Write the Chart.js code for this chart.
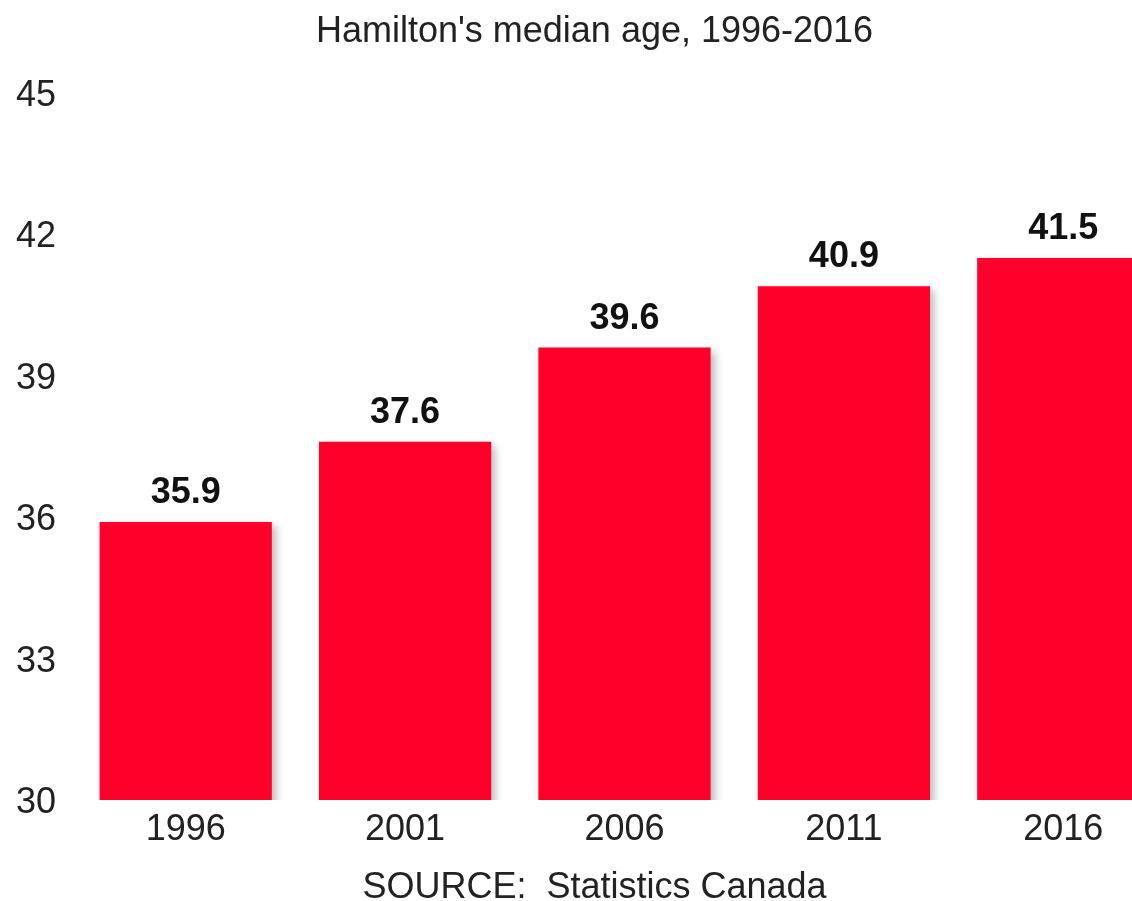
<!DOCTYPE html>
<html>
<head>
<meta charset="utf-8">
<script src="https://cdn.jsdelivr.net/npm/chart.js@4.4.1/dist/chart.umd.min.js"></script>
<style>
  html, body { margin: 0; padding: 0; background: #fff; overflow: hidden; }
  #wrap { width: 1173px; height: 901px; }
</style>
</head>
<body>
<div id="wrap"><canvas id="ageChart" width="1173" height="901"></canvas></div>
<script>
// Data
const years = ['1996', '2001', '2006', '2011', '2016'];
const medianAge = [35.9, 37.6, 39.6, 40.9, 41.5];
const yTicks = [30, 33, 36, 39, 42, 45];

const font = 'Liberation Sans, Arial, Helvetica, sans-serif';

// soft drop shadow under the bars
const barShadow = {
    id: 'barShadow',
    beforeDatasetsDraw(chart) {
        const c = chart.ctx;
        c.save();
        c.shadowColor = 'rgba(0,0,0,0.28)';
        c.shadowBlur = 8;
        c.shadowOffsetX = 4;
        c.shadowOffsetY = 4;
    },
    afterDatasetsDraw(chart) {
        chart.ctx.restore();
    }
};

// value labels above each bar
const valueLabels = {
    id: 'valueLabels',
    afterDatasetsDraw(chart) {
        const c = chart.ctx;
        const meta = chart.getDatasetMeta(0);
        c.save();
        c.font = 'bold 36px ' + font;
        c.fillStyle = '#111';
        c.textAlign = 'center';
        c.textBaseline = 'alphabetic';
        meta.data.forEach((bar, i) => {
            c.fillText(medianAge[i].toFixed(1), bar.x, bar.y - 19);
        });
        c.restore();
    }
};

const ctx = document.getElementById('ageChart').getContext('2d');
new Chart(ctx, {
    type: 'bar',
    data: {
        labels: years,
        datasets: [{
            data: medianAge,
            backgroundColor: '#fe0029',
            borderWidth: 0,
            barPercentage: 0.785,
            categoryPercentage: 1
        }]
    },
    options: {
        responsive: false,
        animation: false,
        layout: { padding: { left: 16, right: 0, top: 0, bottom: 0 } },
        plugins: {
            legend: { display: false },
            tooltip: { enabled: false },
            title: {
                display: true,
                text: "Hamilton's median age, 1996-2016",
                color: '#222',
                font: { family: font, size: 36, weight: 'normal', lineHeight: 1 },
                padding: { top: 14, bottom: 43 }
            },
            subtitle: {
                display: true,
                position: 'bottom',
                text: 'SOURCE:  Statistics Canada',
                color: '#222',
                font: { family: font, size: 36, weight: 'normal', lineHeight: 1 },
                padding: { top: 20, bottom: -5 }
            }
        },
        scales: {
            x: {
                grid: { display: false, drawTicks: false },
                border: { display: false },
                afterFit(scale) {
                    scale.height = 50;
                },
                ticks: {
                    color: '#222',
                    padding: 12,
                    font: { family: font, size: 36, lineHeight: 1 }
                }
            },
            y: {
                min: 30,
                max: 45,
                grid: { display: false, drawTicks: false },
                border: { display: false },
                afterBuildTicks(scale) {
                    scale.ticks = yTicks.map(v => ({ value: v }));
                },
                afterFit(scale) {
                    scale.width = 60;
                },
                ticks: {
                    color: '#222',
                    crossAlign: 'far',
                    labelOffset: 3,
                    font: { family: font, size: 36, lineHeight: 1 }
                }
            }
        }
    },
    plugins: [barShadow, valueLabels]
});
</script>
</body>
</html>
